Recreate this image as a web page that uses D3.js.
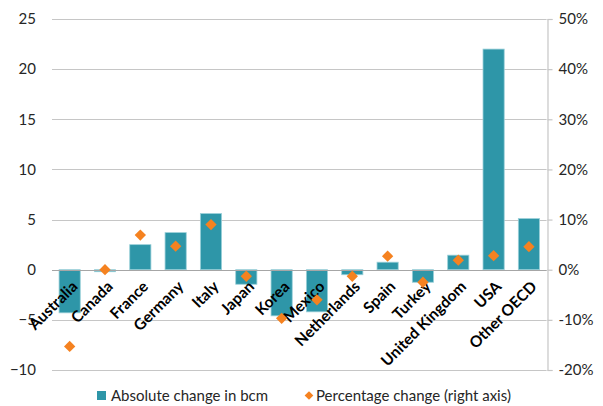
<!DOCTYPE html>
<html>
<head>
<meta charset="utf-8">
<script src="https://cdn.jsdelivr.net/npm/d3@7"></script>
<style>
  html, body { margin: 0; padding: 0; background: #fff; }
  svg { display: block; font-family: "Lato", "Open Sans", sans-serif; }
</style>
</head>
<body>
<svg id="chart" width="603" height="406"></svg>
<script>
// Gas demand change by country
const categories = ["Australia", "Canada", "France", "Germany", "Italy", "Japan", "Korea",
  "Mexico", "Netherlands", "Spain", "Turkey", "United Kingdom", "USA", "Other OECD"];
const absoluteChange = [-4.3, -0.2, 2.5, 3.7, 5.6, -1.45, -4.6, -4.2, -0.5, 0.75, -1.25, 1.45, 22.0, 5.1];
const percentChange = [-15.3, 0, 6.9, 4.7, 9.0, -1.3, -9.7, -6.0, -1.3, 2.7, -2.5, 1.9, 2.8, 4.6];
const leftTicks = [-10, -5, 0, 5, 10, 15, 20, 25];
const rightTicks = [-20, -10, 0, 10, 20, 30, 40, 50];
const seriesNames = ["Absolute change in bcm", "Percentage change (right axis)"];

const barColor = "#2E96A8";
const markColor = "#F58220";
const gridColor = "#C6C6C6";

const svg = d3.select("#chart");
const plotLeft = 52, plotRight = 546.6, plotTop = 19, plotBottom = 370;

const x = d3.scaleBand().domain(categories).range([plotLeft, plotRight]).paddingInner(0.4).paddingOuter(0.2);
const y = d3.scaleLinear().domain([-10, 25]).range([plotBottom, plotTop]);
const y2 = d3.scaleLinear().domain([-20, 50]).range([plotBottom, plotTop]);

// gridlines
svg.append("g").selectAll("line").data(leftTicks).join("line")
  .attr("x1", plotLeft).attr("x2", plotRight)
  .attr("y1", d => Math.round(y(d)) + 0.5).attr("y2", d => Math.round(y(d)) + 0.5)
  .attr("stroke", gridColor).attr("stroke-width", 1.2);

// left axis labels
const leftAxis = svg.append("g").attr("transform", `translate(${plotLeft},0)`)
  .call(d3.axisLeft(y).tickValues(leftTicks).tickSize(0).tickPadding(16));
leftAxis.select(".domain").remove();
leftAxis.selectAll("text").attr("font-size", 15).attr("fill", "#262626")
  .attr("font-family", "Lato, 'Open Sans', sans-serif");

// right axis
const rightAxis = svg.append("g").attr("transform", `translate(${Math.round(plotRight) + 0.5},0)`)
  .call(d3.axisRight(y2).tickValues(rightTicks).tickSize(5).tickPadding(6).tickFormat(d => d + "%"));
rightAxis.select(".domain").attr("stroke", gridColor).attr("stroke-width", 1.2);
rightAxis.selectAll(".tick line").attr("stroke", gridColor).attr("stroke-width", 1.2);
rightAxis.selectAll("text").attr("font-size", 15).attr("fill", "#262626")
  .attr("font-family", "Lato, 'Open Sans', sans-serif");

// bars
svg.append("g").selectAll("rect").data(categories).join("rect")
  .attr("x", d => x(d))
  .attr("width", x.bandwidth())
  .attr("y", (d, i) => y(Math.max(0, absoluteChange[i])))
  .attr("height", (d, i) => Math.abs(y(absoluteChange[i]) - y(0)))
  .attr("fill", barColor)
  .attr("stroke", "#9BD0D9").attr("stroke-width", 0.8);

// zero line drawn over bars
svg.append("line").attr("x1", plotLeft).attr("x2", plotRight)
  .attr("y1", Math.round(y(0)) + 0.5).attr("y2", Math.round(y(0)) + 0.5)
  .attr("stroke", "#A6A6A6").attr("stroke-width", 1.2);

// category labels
svg.append("g").selectAll("text").data(categories).join("text")
  .attr("transform", d => `translate(${x(d) + x.bandwidth() / 2 + 5},${y(0) + 14}) rotate(-45)`)
  .attr("text-anchor", "end")
  .attr("dy", "0.35em")
  .attr("font-size", 15.5).attr("font-weight", "bold").attr("fill", "#000")
  .text(d => d);

// diamonds
svg.append("g").selectAll("path").data(categories).join("path")
  .attr("transform", (d, i) => `translate(${x(d) + x.bandwidth() / 2},${y2(percentChange[i])}) rotate(45)`)
  .attr("d", d3.symbol().type(d3.symbolSquare).size(64))
  .attr("fill", markColor);

// legend
const legend = svg.append("g");
legend.append("rect").attr("x", 97).attr("y", 391).attr("width", 9).attr("height", 9).attr("fill", barColor);
legend.append("text").attr("x", 111).attr("y", 401).attr("font-size", 15).attr("fill", "#262626").text(seriesNames[0]);
legend.append("path").attr("transform", "translate(309,395.5) rotate(45)")
  .attr("d", d3.symbol().type(d3.symbolSquare).size(38)).attr("fill", markColor);
legend.append("text").attr("x", 316).attr("y", 401).attr("font-size", 15).attr("fill", "#262626").text(seriesNames[1]);
</script>
</body>
</html>
